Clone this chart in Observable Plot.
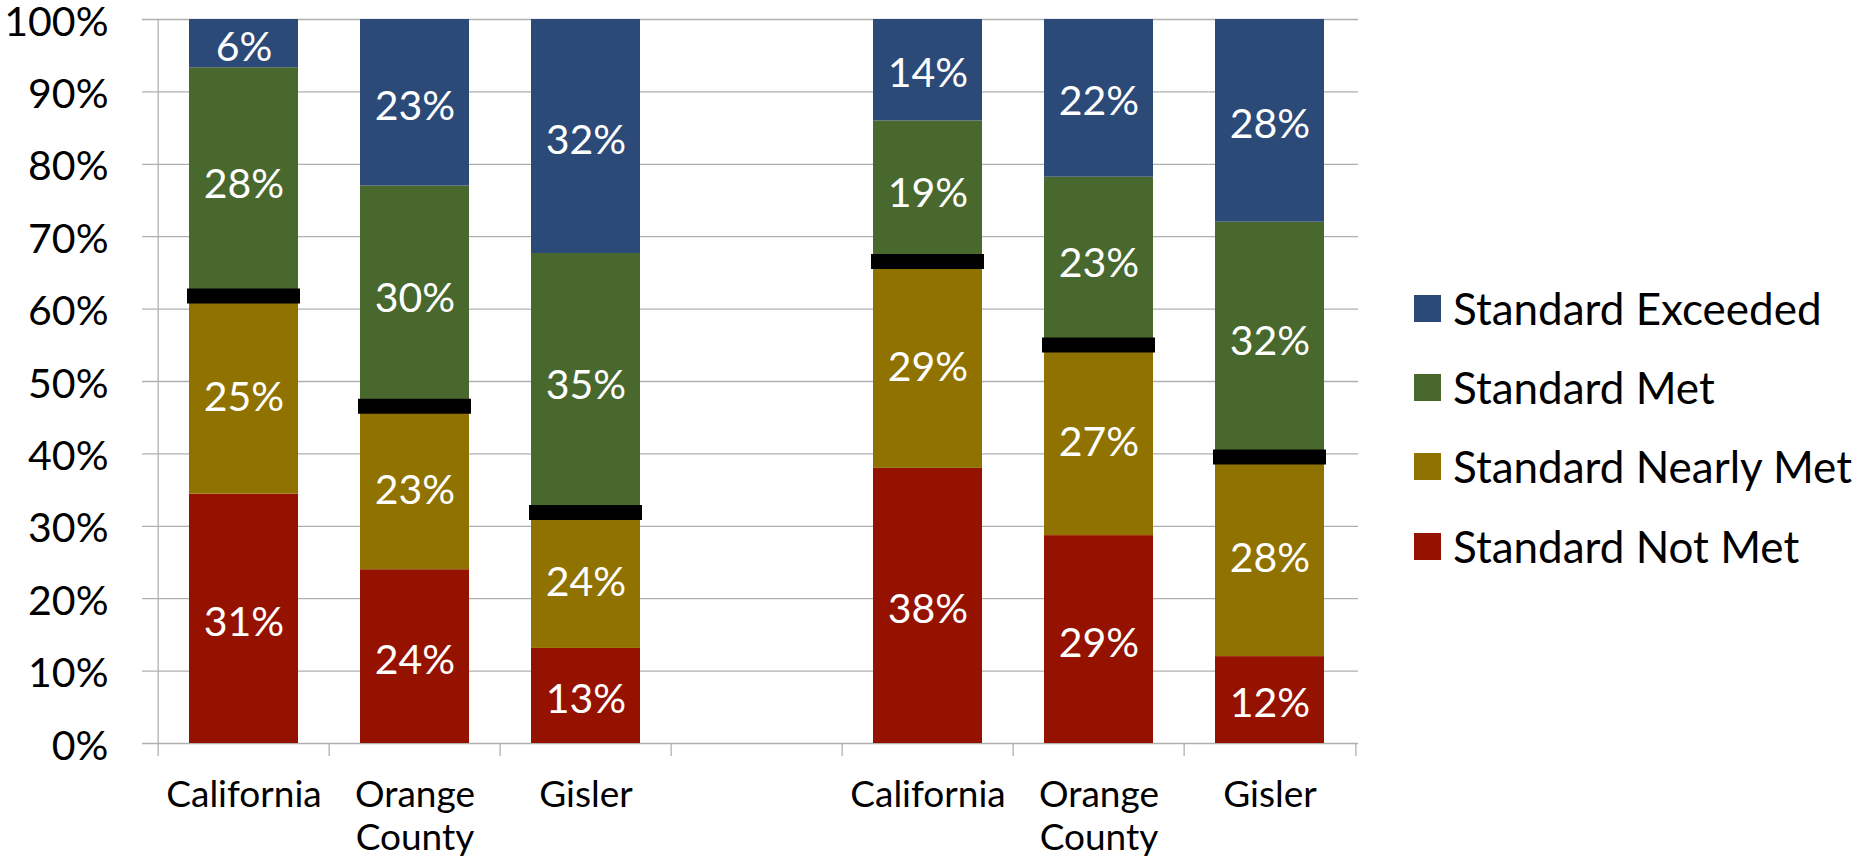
<!DOCTYPE html>
<html>
<head>
<meta charset="utf-8">
<script src="https://cdn.jsdelivr.net/npm/d3@7"></script>
<script src="https://cdn.jsdelivr.net/npm/@observablehq/plot@0.6"></script>
<style>
  html, body { margin: 0; padding: 0; background: #fff; }
  #wrap { position: relative; width: 1876px; height: 859px; overflow: hidden; font-family: Lato, sans-serif; }
  #chart { position: absolute; left: 0; top: 0; }
  #legend { position: absolute; left: 1414px; top: 0; }
  .item { position: absolute; left: 0; height: 50px; display: flex; align-items: center; white-space: nowrap; }
  .sw { width: 27px; height: 27px; margin-right: 12px; flex: none; }
  .lbl { font-size: 44px; line-height: 50px; color: #000; }
</style>
</head>
<body>
<div id="wrap"><div id="chart"></div><div id="legend"></div></div>
<script>
// ---- data ----
const slots = ["California|A", "Orange County|A", "Gisler|A", "gap", "California|B", "Orange County|B", "Gisler|B"];
const barSlots = ["California|A", "Orange County|A", "Gisler|A", "California|B", "Orange County|B", "Gisler|B"];
const categoryNames = ["California", "Orange\nCounty", "Gisler", "California", "Orange\nCounty", "Gisler"];
const levels = ["Standard Not Met", "Standard Nearly Met", "Standard Met", "Standard Exceeded"];
const notMet    = [31, 24, 13, 38, 29, 12];
const nearlyMet = [25, 23, 19, 29, 27, 28];
const met       = [28, 30, 35, 19, 23, 32];
const exceeded  = [6, 23, 32, 14, 22, 28];
const notMetLabels    = ["31%", "24%", "13%", "38%", "29%", "12%"];
const nearlyMetLabels = ["25%", "23%", "24%", "29%", "27%", "28%"];
const metLabels       = ["28%", "30%", "35%", "19%", "23%", "32%"];
const exceededLabels  = ["6%", "23%", "32%", "14%", "22%", "28%"];
const yTicks = [0, 0.1, 0.2, 0.3, 0.4, 0.5, 0.6, 0.7, 0.8, 0.9, 1];
const yTickLabels = ["0%", "10%", "20%", "30%", "40%", "50%", "60%", "70%", "80%", "90%", "100%"];
const colors = ["#961200", "#8f7200", "#48682e", "#2c4a78"];
const legendOrder = ["Standard Exceeded", "Standard Met", "Standard Nearly Met", "Standard Not Met"];

// ---- build table ----
const series = [notMet, nearlyMet, met, exceeded];
const seriesLabels = [notMetLabels, nearlyMetLabels, metLabels, exceededLabels];
const rows = [];
barSlots.forEach((key, i) => {
  levels.forEach((lv, j) => rows.push({key, level: lv, value: series[j][i], label: seriesLabels[j][i]}));
});
const markers = barSlots.map((key, i) => ({
  key,
  b: (notMet[i] + nearlyMet[i]) / (notMet[i] + nearlyMet[i] + met[i] + exceeded[i])
}));
const cats = barSlots.map((key, i) => ({key, name: categoryNames[i]}));
const yt = yTicks.map((v, i) => ({v, t: yTickLabels[i]}));

// ---- layout ----
const W = 1400, H = 859;
const mL = 156, mR = 42, mT = 19, mB = 116;
const step = (W - mL - mR) / slots.length;
const gridColor = "#b0b0b0";

const chart = Plot.plot({
  width: W, height: H,
  marginLeft: mL, marginRight: mR, marginTop: mT, marginBottom: mB,
  style: {fontFamily: "Lato, sans-serif", background: "transparent", overflow: "visible"},
  x: {domain: slots, paddingInner: 0.36, paddingOuter: 0.18, axis: null},
  y: {domain: [0, 1], axis: null},
  color: {domain: levels, range: colors},
  marks: [
    Plot.ruleY(yTicks, {y: d => d, stroke: gridColor, strokeWidth: 1.3, insetLeft: -14}),
    Plot.ruleX([slots[0]], {x: d => d, dx: -step / 2, stroke: gridColor, strokeWidth: 1.3, insetBottom: -13}),
    Plot.ruleX(slots.slice(1), {x: d => d, dx: -step / 2, y1: 0, y2: 0, stroke: gridColor, strokeWidth: 1.3, insetBottom: -13}),
    Plot.ruleX([slots[slots.length - 1]], {x: d => d, dx: step / 2, y1: 0, y2: 0, stroke: gridColor, strokeWidth: 1.3, insetBottom: -13}),
    Plot.barY(rows, Plot.stackY({x: "key", y: "value", z: "level", fill: "level", offset: "normalize", order: levels})),
    Plot.text(rows, Plot.stackY({x: "key", y: "value", z: "level", text: "label", offset: "normalize", order: levels,
      fill: "white", fontSize: 41, dy: 4})),
    Plot.tickY(markers, {x: "key", y: "b", stroke: "black", strokeWidth: 15, insetLeft: -2, insetRight: -2, dy: 3, ariaLabel: "marker"}),
    Plot.text(yt, {y: "v", text: "t", frameAnchor: "left", dx: -48, dy: 3, textAnchor: "end", fontSize: 41, fill: "black"}),
    Plot.text(cats, {x: "key", text: "name", frameAnchor: "bottom", lineAnchor: "top", dy: 33, fontSize: 37, lineHeight: 1.16, fill: "black"})
  ]
});
document.getElementById("chart").appendChild(chart);

// tilt the threshold markers slightly, as in the original
chart.querySelectorAll('g[aria-label="marker"] line').forEach(l => {
  const x1 = +l.getAttribute("x1"), x2 = +l.getAttribute("x2"), y1 = +l.getAttribute("y1");
  l.setAttribute("transform", `rotate(1.7 ${(x1 + x2) / 2} ${y1})`);
});

// ---- legend ----
const legend = document.getElementById("legend");
const centers = [308, 387, 466, 546];
legendOrder.forEach((lv, i) => {
  const item = document.createElement("div");
  item.className = "item";
  item.style.top = (centers[i] - 25) + "px";
  const sw = document.createElement("div");
  sw.className = "sw";
  sw.style.background = colors[levels.indexOf(lv)];
  const t = document.createElement("span");
  t.className = "lbl";
  t.textContent = lv;
  item.appendChild(sw); item.appendChild(t);
  legend.appendChild(item);
});
</script>
</body>
</html>
